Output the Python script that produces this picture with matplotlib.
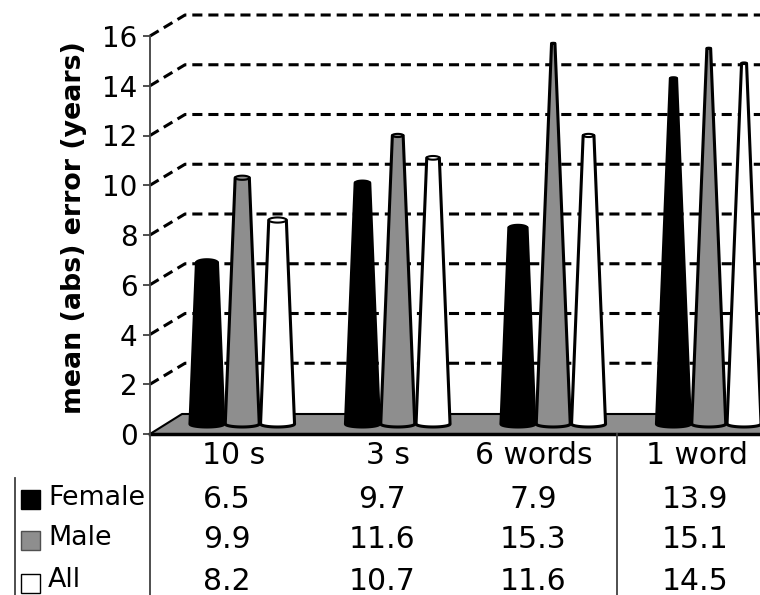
import numpy as np
import matplotlib
matplotlib.use('Agg')
import matplotlib.pyplot as plt
from matplotlib.patches import Rectangle

categories = ['10 s', '3 s', '6 words', '1 word']
series_names = ['Female', 'Male', 'All']
female = [6.5, 9.7, 7.9, 13.9]
male = [9.9, 11.6, 15.3, 15.1]
all_ = [8.2, 10.7, 11.6, 14.5]
yticks = [0, 2, 4, 6, 8, 10, 12, 14, 16]

colors = ['black', '#8e8e8e', 'white']
FS = 21.5

W, H = 760, 595
fig = plt.figure(figsize=(W / 100, H / 100), dpi=100)

# main axes: x in category units, y in years
PX_CAT = 155.5
left, right, y0, ytop = 150, 760, 434, 0
PX_Y = 24.875
ax = fig.add_axes([left / W, 1 - y0 / H, (right - left) / W, (y0 - ytop) / H])
ax.set_xlim(0, (right - left) / PX_CAT)
ax.set_ylim(0, (y0 - ytop) / PX_Y)
ax.patch.set_alpha(0)

# depth of the fake 3d box
back_x = 35 / PX_CAT
back_y = 21 / PX_Y
xmax = ax.get_xlim()[1]

for v in yticks[1:]:
    ax.plot([0, back_x, xmax], [v, v + back_y, v + back_y], color='black', lw=2.2,
            dashes=(3.3, 1.95), zorder=1, clip_on=False)

# floor
floor_x = 32 / PX_CAT
floor_y = 20 / PX_Y
ax.fill([0, floor_x, xmax, xmax], [0, floor_y, floor_y, 0], facecolor=colors[1], edgecolor='none', zorder=2)
ax.plot([0, floor_x, xmax], [0, floor_y, floor_y], color='black', lw=1.5, zorder=2)
ax.plot([0, xmax], [0, 0], color='black', lw=2.5, zorder=2, clip_on=False)


def cone(xc, val, color, z):
    r0 = 17 / PX_CAT
    r1 = r0 * (1 - val / 17)
    base = 10 / PX_Y
    t = np.linspace(0, np.pi, 30)
    # side + bottom arc
    xs = np.r_[xc - r1, xc - r0, xc + r0 * np.cos(np.pi + t), xc + r1]
    ys = np.r_[val + base, base, base - 0.12 * np.sin(t), val + base]
    ax.fill(xs, ys, facecolor=color, edgecolor='black', lw=2.2, joinstyle='round', zorder=z)
    # top cap
    xt = xc + r1 * np.cos(np.linspace(0, 2 * np.pi, 40))
    yt = val + base + (r1 / r0) * 0.2 * np.sin(np.linspace(0, 2 * np.pi, 40))
    ax.fill(xt, yt, facecolor=color, edgecolor='black', lw=1.5, zorder=z)


for i in range(len(categories)):
    for j, vals in enumerate([female, male, all_]):
        cone(i + 0.5 + 14.5 / PX_CAT + (j - 1) * 35.3 / PX_CAT, vals[i], colors[j], 3 + j)

for s in ['top', 'right', 'bottom']:
    ax.spines[s].set_visible(False)
ax.spines['left'].set_bounds(0, 16)
ax.spines['left'].set_color('#404040')
ax.spines['left'].set_linewidth(1.3)
ax.set_xticks([])
ax.set_yticks(yticks)
ax.tick_params(axis='y', labelsize=20, length=5, width=1.3, color='#404040', pad=4)

# overlay in pixels for the data table and the labels
tb = fig.add_axes([0, 0, 1, 1])
tb.set_xlim(0, W)
tb.set_ylim(H, 0)
tb.axis('off')
tb.patch.set_alpha(0)

tb.text(74, 228, 'mean (abs) error (years)', rotation=90, ha='center', va='center',
        fontsize=19.3, fontweight='bold')

tb.plot([150, 150], [434, H], color='#404040', lw=1.3)
tb.plot([617, 617], [434, H], color='#404040', lw=1.3)
tb.plot([15, 15], [478, H], color='#404040', lw=1.3)

head_x = [234, 388, 534, 697]
col_x = [227, 382, 533, 695]
rows_y = [499, 539, 581]
for k, name in enumerate(categories):
    tb.text(head_x[k], 456, name, ha='center', va='center', fontsize=FS)
for r, vals in enumerate([female, male, all_]):
    tb.text(48, rows_y[r] - 1, series_names[r], ha='left', va='center', fontsize=19.4)
    tb.add_patch(Rectangle((21, rows_y[r] - 9 + r), 19, 19, facecolor=colors[r],
                           edgecolor='black' if r != 1 else '#505050', lw=1))
    for k, v in enumerate(vals):
        tb.text(col_x[k], rows_y[r], '%.1f' % v, ha='center', va='center', fontsize=FS)

fig.savefig('out.png', dpi=100)
